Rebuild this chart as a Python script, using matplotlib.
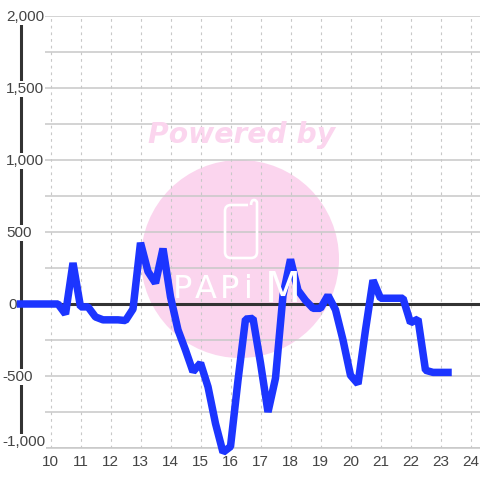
import matplotlib
matplotlib.use("Agg")
import matplotlib.pyplot as plt
from matplotlib.patches import Circle, PathPatch
from matplotlib.path import Path
from matplotlib.transforms import IdentityTransform

plt.rcParams["font.family"] = ["Liberation Sans", "DejaVu Sans"]

# quarter-hour readings from 9:00
hours = [9 + 0.25 * i for i in range(58)]
values = [
    0, 0, 0, 0, 0, 0, -70, 285, -20, -20, -90, -110, -110, -110, -115,
    -35, 425, 225, 145, 385, 50, -180, -320, -470, -410, -575, -830, -1030, -990,
    -530, -105, -100, -410, -750, -515, 60, 310, 95, 25, -30, -30, 60, -40,
    -250, -495, -555, -180, 165, 40, 40, 40, 40, -130, -105, -460, -475, -475, -475,
]

x_ticks = list(range(10, 25))
y_major = [-1000, -500, 0, 500, 1000, 1500, 2000]
y_labels = ["-1,000", "-500", "0", "500", "1,000", "1,500", "2,000"]
y_label_px = [2, 2, 8, 6, 6, 6, 6]
y_label_dy = [6, -1, -1, -1, -1, -1, -1]
y_minor = [-750, -250, 250, 750, 1250, 1750]
logo_letters = ["P", "A", "P", "i", "M"]
logo_px = [183, 206, 230, 248, 283]
logo_sizes = [23, 23, 23, 23, 30]

W, H = 480, 480
fig = plt.figure(figsize=(W / 100, H / 100), dpi=100, facecolor="white")
left, right, top, bottom = 45, 480, 16, 448
ax = fig.add_axes([left / W, 1 - bottom / H, (right - left) / W, (bottom - top) / H])
ax.set_facecolor("none")
ax.set_xlim(10 - 5.5 / 30, 10 + 429.5 / 30)
ax.set_ylim(-1000, 2000)


# watermark in pixel coords, under the chart
def px(x, y):
    return x / W, 1 - y / H


pink = "#fbd5ee"
ident = IdentityTransform()
fig.add_artist(Circle((240, H - 259), 99, transform=ident, color=pink, lw=0, zorder=0))
fx, fy = px(242, 135)
fig.text(fx, fy, "Powered by", color=pink, fontsize=20.3, fontweight="bold", style="italic",
         ha="center", va="center", zorder=0, family=["DejaVu Sans"])

phone = [(248, 205), (231, 205), (225, 205), (225, 211), (225, 252), (225, 258), (231, 258),
         (251, 258), (257, 258), (257, 252), (257, 203), (257, 200), (254, 200), (251, 200),
         (251, 205)]
codes = [Path.MOVETO, Path.LINETO, Path.CURVE3, Path.CURVE3, Path.LINETO, Path.CURVE3, Path.CURVE3,
         Path.LINETO, Path.CURVE3, Path.CURVE3, Path.LINETO, Path.CURVE3, Path.CURVE3, Path.CURVE3,
         Path.CURVE3]
phone_px = Path([(a, H - b) for a, b in phone], codes)
fig.add_artist(PathPatch(phone_px, transform=ident, fc="none", ec="white", lw=1.9, zorder=0.5))
for letter, lx, size in zip(logo_letters, logo_px, logo_sizes):
    fx, fy = px(lx, 290)
    fig.text(fx, fy, letter, color="white", fontsize=size, ha="center", va="center", zorder=0.5,
             family=["DejaVu Sans"])

ax.set_xticks(x_ticks)
ax.set_yticks(y_major)
ax.set_yticks(y_minor, minor=True)
ax.grid(True, axis="y", which="both", color="#c8c8c8", lw=1.1)
ax.grid(True, axis="x", color="#c8c8c8", lw=0.8, ls=(0, (2.5, 3.5)))
ax.set_axisbelow(True)
ax.tick_params(axis="both", which="both", length=0)
ax.tick_params(axis="x", labelsize=11, labelcolor="#444444", pad=5)
ax.tick_params(axis="y", labelleft=False)
for name in ["top", "right"]:
    ax.spines[name].set_visible(False)
ax.spines["bottom"].set_color("#c8c8c8")
ax.spines["bottom"].set_linewidth(1.1)

# thick vertical axis, broken by the label boxes
ax.spines["left"].set_position(("outward", 24.5 * 0.72))
ax.spines["left"].set_color("#333333")
ax.spines["left"].set_linewidth(2.2)
ax.spines["left"].set_bounds(-920, 1945)
ax.spines["left"].set_zorder(1)

ax.axhline(0, color="#333333", lw=2.2, zorder=2)
ax.plot([hours[0], hours[0] + 1.2], [0, 0], color="#333333", lw=2.2, clip_on=False, zorder=2)

for v, lab, lx, dy in zip(y_major, y_labels, y_label_px, y_label_dy):
    ax.annotate(lab, xy=(0, v), xycoords=ax.get_yaxis_transform(), xytext=(lx - left, dy),
                textcoords="offset pixels", ha="left", va="center", fontsize=11, color="#444444",
                annotation_clip=False, zorder=3,
                bbox=dict(fc="white", ec="none", pad=0.8))

ax.plot(hours, values, color="#1c35ff", lw=5.4, clip_on=False,
        solid_joinstyle="bevel", solid_capstyle="projecting", zorder=4)

fig.savefig("out.png", dpi=100)
